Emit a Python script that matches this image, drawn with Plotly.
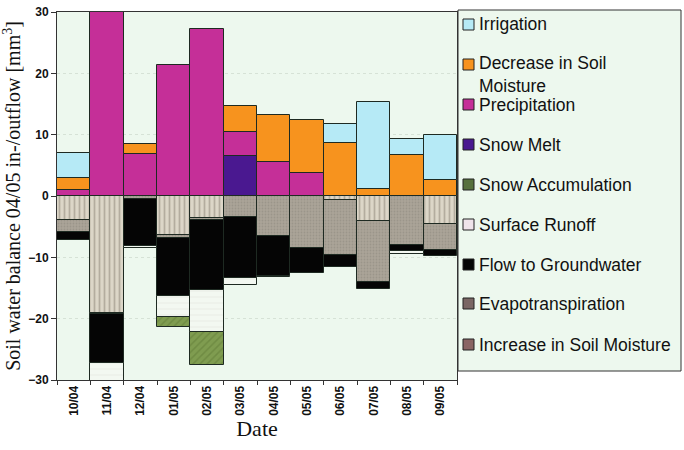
import plotly.graph_objects as go

dates = ['10/04', '11/04', '12/04', '01/05', '02/05', '03/05',
         '04/05', '05/05', '06/05', '07/05', '08/05', '09/05']

# inflows (positive)
irrigation = [4.0, None, None, None, None, None, None, None, 3.0, 14.2, 2.6, 7.3]
decrease_sm = [2.0, None, 1.7, None, None, 4.2, 7.7, 8.7, 8.7, 1.2, 6.7, 2.6]
precipitation = [1.0, 30.0, 6.8, 21.4, 27.3, 4.0, 5.5, 3.7, None, None, None, None]
snow_melt = [None, None, None, None, None, 6.5, None, None, None, None, None, None]

# outflows (negative)
increase_sm = [-3.9, -19.0, None, -6.4, -3.6, None, None, None, -0.6, -4.1, None, -4.5]
evapotranspiration = [-1.9, -0.3, -0.5, -0.5, -0.35, -3.4, -6.5, -8.5, -9.0, -9.9, -8.0, -4.3]
flow_gw = [-1.3, -7.9, -7.6, -9.35, -11.45, -10.0, -6.5, -4.0, -1.9, -1.2, -1.0, -1.0]
surface_runoff = [None, -3.0, -0.3, -3.55, -6.7, -1.1, -0.2, None, None, None, -0.5, None]
snow_accum = [None, None, None, -1.5, -5.4, None, None, None, None, None, None, None]

# stacking order (positives and negatives stack outward from zero in this order)
series = [
    ("Increase in Soil Moisture", increase_sm, "#dcd6c8", dict(shape="|", fgcolor="#8a8276", bgcolor="#dcd6c8", size=5, solidity=0.35)),
    ("Evapotranspiration", evapotranspiration, "#a49e92", dict(shape=".", fgcolor="#8c867c", bgcolor="#aaa498", size=3, solidity=0.3)),
    ("Flow to Groundwater", flow_gw, "#050505", None),
    ("Surface Runoff", surface_runoff, "#f3f8f1", dict(shape="-", fgcolor="#dfe5dc", bgcolor="#f3f8f1", size=6, solidity=0.2)),
    ("Snow Accumulation", snow_accum, "#789545", dict(shape="/", fgcolor="#5f7a35", bgcolor="#7f9c50", size=5, solidity=0.3)),
    ("Snow Melt", snow_melt, "#4a1890", None),
    ("Precipitation", precipitation, "#c52f98", None),
    ("Decrease in Soil Moisture", decrease_sm, "#f7931e", None),
    ("Irrigation", irrigation, "#b6eaf6", None),
]

# legend entries (top to bottom): label, swatch colour
legend_labels = ["Irrigation", "Decrease in Soil<br>Moisture", "Precipitation", "Snow Melt",
                 "Snow Accumulation", "Surface Runoff", "Flow to Groundwater",
                 "Evapotranspiration", "Increase in Soil Moisture"]
legend_colors = ["#b6eaf6", "#f7931e", "#c52f98", "#4a1890", "#56703c",
                 "#efe4ea", "#050505", "#7a6664", "#8a6464"]

W, H = 684, 450
ML, MR, MT, MB = 57, 227, 12, 70
PW, PH = W - ML - MR, H - MT - MB


def px(x):
    return (x - ML) / PW


def py(y):
    return (H - MB - y) / PH


fig = go.Figure()
for name, vals, color, pat in series:
    marker = dict(color=color, line=dict(color="#1e2a22", width=1))
    if pat:
        marker["pattern"] = pat
    fig.add_trace(go.Bar(x=dates, y=vals, name=name, marker=marker))

shapes = [dict(type="rect", xref="paper", yref="paper",
               x0=px(458), x1=px(681), y0=py(371), y1=py(10),
               fillcolor="#edf8ee", line=dict(color="#333", width=1), layer="below")]
annotations = []
item_y = [24.5, 74.5, 104.5, 144.5, 184.5, 224.5, 264.5, 303.5, 344.5]
sym_y = [24.5, 64.5, 104.5, 144.5, 184.5, 224.5, 264.5, 303.5, 344.5]
for lab, col, yc, ys in zip(legend_labels, legend_colors, item_y, sym_y):
    shapes.append(dict(type="rect", xref="paper", yref="paper",
                       x0=px(463), x1=px(474), y0=py(ys + 5.5), y1=py(ys - 5.5),
                       fillcolor=col, line=dict(color="#222", width=1)))
    annotations.append(dict(text=lab, xref="paper", yref="paper", x=px(477), y=py(yc),
                            xanchor="left", yanchor="middle", align="left", showarrow=False,
                            font=dict(size=17.5, family="Liberation Sans, Arial, sans-serif", color="#111")))

fig.update_layout(
    width=W, height=H,
    barmode="relative", bargap=0,
    paper_bgcolor="white", plot_bgcolor="#edf8ee",
    margin=dict(l=ML, r=MR, t=MT, b=MB),
    font=dict(family="Liberation Sans, Arial, sans-serif", color="#111"),
    showlegend=False,
    shapes=shapes, annotations=annotations,
)
fig.update_yaxes(
    range=[-30, 30], dtick=10, showgrid=True, gridcolor="#d6e2d6", griddash="dot",
    zeroline=True, zerolinecolor="#222", zerolinewidth=1,
    showline=True, linecolor="#333", linewidth=1, mirror=True,
    ticks="outside", ticklen=5, tickcolor="#333", automargin=False,
    tickfont=dict(size=12, weight="bold", family="Liberation Sans, Arial, sans-serif"),
    title=dict(text="Soil water balance 04/05 in-/outflow [mm<sup>3</sup>]",
               font=dict(family="Liberation Serif, Times New Roman, serif", size=20), standoff=6),
)
fig.update_xaxes(
    type="category", tickangle=-90, tickson="boundaries",
    ticks="outside", ticklen=4, tickcolor="#333", automargin=False,
    showline=True, linecolor="#333", linewidth=1, mirror=True,
    tickfont=dict(size=12, weight="bold", family="Liberation Sans, Arial, sans-serif"),
    title=dict(text="Date", font=dict(family="Liberation Serif, Times New Roman, serif", size=22), standoff=4),
)

fig.write_html("out.html")
